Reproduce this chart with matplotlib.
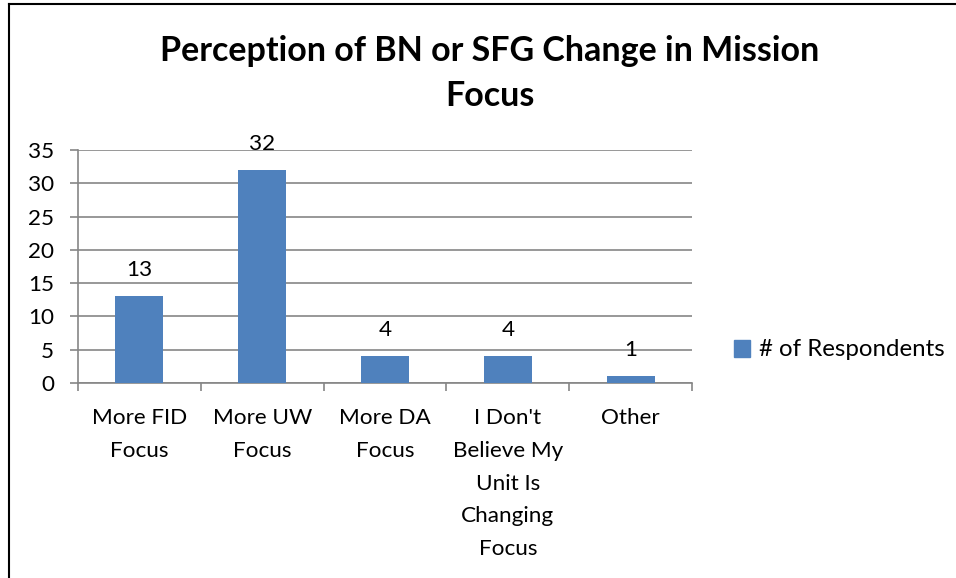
import matplotlib
matplotlib.use("Agg")
import matplotlib.pyplot as plt
from matplotlib.patches import Patch
from matplotlib.lines import Line2D

categories = ["More FID\nFocus", "More UW\nFocus", "More DA\nFocus",
              "I Don't\nBelieve My\nUnit Is\nChanging\nFocus", "Other"]
values = [13, 32, 4, 4, 1]
yticks = [0, 5, 10, 15, 20, 25, 30, 35]
series_name = "# of Respondents"
title_lines = ["Perception of BN or SFG Change in Mission", "Focus"]

plt.rcParams['font.family'] = ['Lato', 'DejaVu Sans']
BAR = "#4F81BD"
GRID = "#868686"
FS = 16.2

fig = plt.figure(figsize=(9.56, 5.78), dpi=100)
ax = fig.add_axes([78/956, 1-383/578, (692-78)/956, (383-150)/578])

x = list(range(len(values)))
ax.bar(x, values, width=0.39, color=BAR, zorder=3)
for xi, v in zip(x, values):
    ax.annotate(str(v), (xi, v), xytext=(0, 19), textcoords='offset points',
                ha='center', va='center', fontsize=FS, color='black')

ax.set_xlim(-0.5, len(values) - 0.5)
ax.set_ylim(0, 35)
ax.set_yticks(yticks)
ax.set_yticklabels([str(t) for t in yticks], fontsize=FS)
ax.yaxis.grid(True, color=GRID, linewidth=1.2, zorder=0)
ax.tick_params(axis='y', length=6, width=1.2, color=GRID, pad=11)

ax.set_xticks([i - 0.5 for i in range(len(values) + 1)], minor=False)
ax.set_xticklabels([])
ax.tick_params(axis='x', which='major', length=6, width=1.2, color=GRID, direction='out')
ax.set_xticks(x, minor=True)
ax.set_xticklabels(categories, minor=True, fontsize=FS, linespacing=1.8)
ax.tick_params(axis='x', which='minor', length=0, pad=18)

for s in ['top', 'right']:
    ax.spines[s].set_visible(False)
for s in ['left', 'bottom']:
    ax.spines[s].set_color(GRID)
    ax.spines[s].set_linewidth(1.2)

fig.text(490/956, 1-51/578, title_lines[0], ha='center', va='center',
         fontsize=24.5, fontweight='bold')
fig.text(490/956, 1-96/578, title_lines[1], ha='center', va='center',
         fontsize=24.5, fontweight='bold')

handle = Patch(facecolor=BAR, edgecolor=BAR)
fig.legend([handle], [series_name], loc='center left', bbox_to_anchor=(724/956, 1-350/578),
           frameon=False, fontsize=17.3, handlelength=0.7, handleheight=0.7, handletextpad=0.35,
           borderaxespad=0)

# outer border (left and top)
fig.add_artist(Line2D([9/956, 9/956], [0, 1-4/578], color='black', lw=1.5, transform=fig.transFigure))
fig.add_artist(Line2D([9/956, 1], [1-4/578, 1-4/578], color='black', lw=1.5, transform=fig.transFigure))

fig.savefig("out.png", dpi=100)
